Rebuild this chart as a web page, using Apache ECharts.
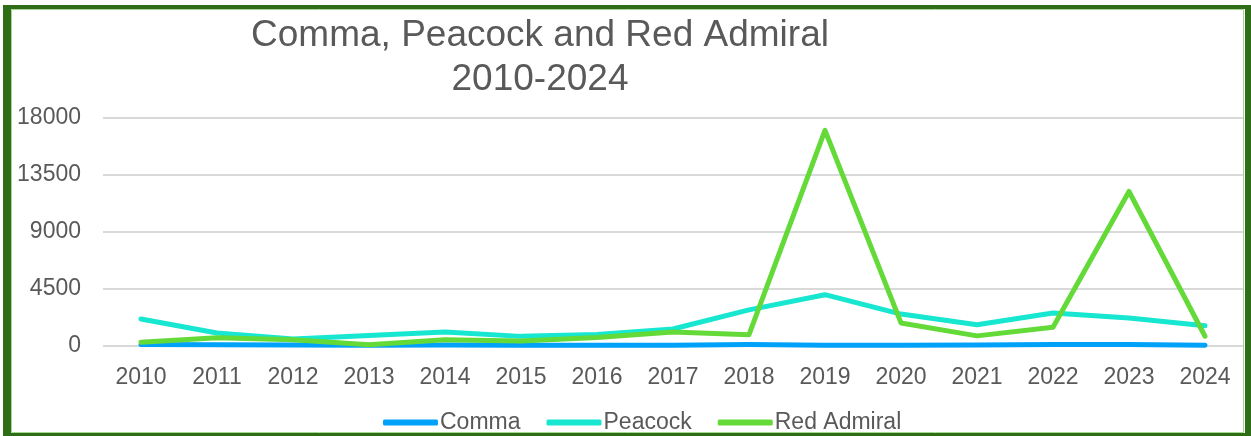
<!DOCTYPE html>
<html><head><meta charset="utf-8">
<script src="https://cdn.jsdelivr.net/npm/echarts@6/dist/echarts.min.js"></script>
<style>html,body{margin:0;padding:0;background:#fff}#c{width:1251px;height:436px}</style>
</head><body><div id="c"></div>
<script>
const years = ['2010','2011','2012','2013','2014','2015','2016','2017','2018','2019','2020','2021','2022','2023','2024'];
const comma = [120, 90, 70, 50, 80, 60, 50, 60, 120, 50, 60, 80, 120, 110, 60];
const peacock = [2130, 1030, 550, 820, 1100, 760, 900, 1340, 2850, 4050, 2520, 1680, 2600, 2210, 1600];
const redAdmiral = [290, 660, 500, 100, 500, 400, 680, 1100, 890, 17020, 1820, 800, 1480, 12200, 770];
const yTicks = [0, 4500, 9000, 13500, 18000];
const titleLines = ['Comma, Peacock and Red Admiral', '2010-2024'];

const txt = '#595959';
const font = '"Liberation Sans", Arial, sans-serif';
const dark = '#2d6e17';
const chart = echarts.init(document.getElementById('c'));
const mk = (name, data, color) => ({
  name, type: 'line', data, symbol: 'none', smooth: false,
  lineStyle: { color, width: 5, cap: 'round', join: 'round' }, itemStyle: { color }
});
const bar = (x, y, w, h, fill) => ({ type: 'rect', shape: { x, y, width: w, height: h }, style: { fill }, z: 100 });
chart.setOption({
  animation: false,
  textStyle: { fontFamily: font },
  graphic: [
    { type: 'rect', shape: { x: 11.5, y: 9.5, width: 1232, height: 423 }, style: { fill: 'none', stroke: '#a8d494', lineWidth: 1 }, z: 99 },
    bar(3, 5, 1248, 4, dark),
    bar(3, 5, 8, 431, dark),
    bar(1245, 5, 6, 431, dark),
    bar(3, 433, 1248, 3, dark),
    { type: 'text', x: 540, y: 14, style: { text: titleLines.join('\n'), fill: txt, font: '37px ' + font, textAlign: 'center', lineHeight: 44 } }
  ],
  grid: { left: 103, right: 8, top: 118, bottom: 90 },
  legend: {
    left: 378, top: 406, itemWidth: 55, itemHeight: 6, itemGap: 26,
    icon: 'roundRect',
    textStyle: { color: txt, fontSize: 23, fontFamily: font, padding: [0, 0, 0, -3] },
    data: ['Comma', 'Peacock', 'Red Admiral']
  },
  xAxis: {
    type: 'category', data: years, boundaryGap: true,
    axisLine: { show: false }, axisTick: { show: false },
    axisLabel: { color: txt, fontSize: 23, margin: 20, fontFamily: font }
  },
  yAxis: {
    type: 'value', min: yTicks[0], max: yTicks[yTicks.length - 1], interval: yTicks[1] - yTicks[0],
    axisLabel: { color: txt, fontSize: 23, margin: 22, fontFamily: font, formatter: v => String(v) },
    splitLine: { lineStyle: { color: '#d9d9d9', width: 2 } }
  },
  series: [
    mk('Comma', comma, '#00a2f9'),
    mk('Peacock', peacock, '#17e6d0'),
    mk('Red Admiral', redAdmiral, '#63da38')
  ]
});
</script></body></html>
